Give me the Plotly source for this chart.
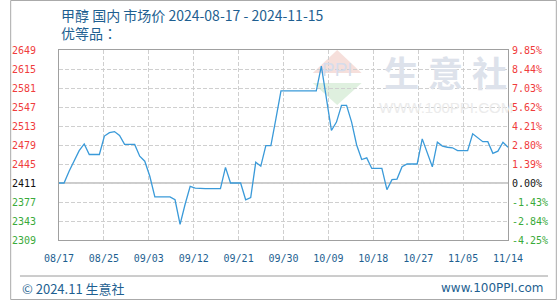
import pandas as pd
import plotly.graph_objects as go

# ---------------- data ----------------
start_date = "2024-08-17"
end_date = "2024-11-14"
prices = [
    2411, 2411, 2432, 2452, 2469, 2481, 2462, 2462, 2462, 2495,
    2501, 2503, 2496, 2480, 2480, 2480, 2459, 2450, 2423, 2386,
    2386, 2386, 2386, 2381, 2337, 2373, 2405, 2402, 2401, 2401,
    2401, 2401, 2401, 2439, 2411, 2411, 2411, 2381, 2385, 2448,
    2441, 2478, 2478, 2526, 2576, 2576, 2576, 2576, 2576, 2576,
    2576, 2576, 2620, 2560, 2505, 2520, 2550, 2550, 2520, 2479,
    2453, 2456, 2437, 2437, 2437, 2399, 2417, 2418, 2440, 2445,
    2445, 2445, 2490, 2465, 2440, 2484, 2477, 2475, 2474, 2469,
    2469, 2469, 2499, 2492, 2485, 2485, 2464, 2468, 2484, 2475,
]
base_price = 2411
x_labels = ["08/17", "08/25", "09/03", "09/12", "09/21", "09/30",
            "10/09", "10/18", "10/27", "11/05", "11/14"]
y_ticks = [2649, 2615, 2581, 2547, 2513, 2479, 2445, 2411, 2377, 2343, 2309]
pct_labels = ["9.85%", "8.44%", "7.03%", "5.62%", "4.21%", "2.80%",
              "1.39%", "0.00%", "-1.43%", "-2.84%", "-4.25%"]
title_text = "甲醇 国内 市场价 2024-08-17 - 2024-11-15"
subtitle_text = "优等品："

dates = pd.date_range(start_date, end_date, freq="D")

# ---------------- styling ----------------
W, H = 560, 300
ML, MR, MT, MB = 50, 50, 50, 60
PW, PH = W - ML - MR, H - MT - MB
RED, GREEN, BLACK = "#f03c3c", "#3aaa3a", "#111111"
BLUE_TXT = "#1e5f91"
LINE = "#3a9ad9"
GRID = "#cfcfcf"
FRAME = "#a0a0a0"
TICK_FONT = dict(family="DejaVu Sans Mono", size=10)


def px(x):
    return (x - ML) / PW


def py(y):
    return (H - MB - y) / PH


def colored(text, value):
    c = RED if value > base_price else (GREEN if value < base_price else BLACK)
    return f'<span style="color:{c}">{text}</span>'


span_days = (dates[-1] - dates[0]).days
n_int = len(x_labels) - 1
tick_dates = [dates[0] + pd.Timedelta(days=span_days * k / n_int) for k in range(len(x_labels))]

fig = go.Figure()
fig.add_trace(go.Scatter(x=dates, y=prices, mode="lines",
                         line=dict(color=LINE, width=1.3),
                         showlegend=False, hoverinfo="skip"))
# anchor trace so the right axis is drawn
fig.add_trace(go.Scatter(x=dates[:1], y=prices[:1], mode="lines", yaxis="y2",
                         line=dict(color=LINE, width=0), showlegend=False,
                         hoverinfo="skip"))

fig.update_layout(
    width=W, height=H,
    margin=dict(l=ML, r=MR, t=MT, b=MB),
    paper_bgcolor="white", plot_bgcolor="white",
    xaxis=dict(
        type="date", range=[dates[0], dates[-1]],
        tickmode="array", tickvals=tick_dates, ticktext=x_labels,
        tickfont=dict(family="DejaVu Sans Mono", size=10, color=BLUE_TXT),
        showgrid=True, gridcolor=GRID, griddash="4px,2px", gridwidth=1,
        showline=True, linecolor=FRAME, linewidth=1, mirror=True,
        ticks="", ticklabelstandoff=9, zeroline=False,
    ),
    yaxis=dict(
        range=[y_ticks[-1], y_ticks[0]],
        tickmode="array", tickvals=y_ticks,
        ticktext=[colored(str(v), v) for v in y_ticks],
        tickfont=TICK_FONT,
        showgrid=True, gridcolor=GRID, griddash="4px,2px", gridwidth=1,
        showline=True, linecolor=FRAME, linewidth=1, mirror=True,
        ticks="", ticklabelstandoff=20, zeroline=False,
    ),
    yaxis2=dict(
        overlaying="y", side="right",
        range=[y_ticks[-1], y_ticks[0]],
        tickmode="array", tickvals=y_ticks,
        ticktext=[colored(t, v) for t, v in zip(pct_labels, y_ticks)],
        tickfont=TICK_FONT, showgrid=False, zeroline=False,
        ticks="", ticklabelstandoff=3, showline=False,
    ),
)

shapes = []
# base line
shapes.append(dict(type="line", xref="paper", yref="y", x0=0, x1=1,
                   y0=base_price, y1=base_price,
                   line=dict(color="#999999", width=1.2), layer="below"))
# watermark logo triangles
shapes.append(dict(type="path", xref="paper", yref="paper", layer="below",
                   path=f"M {px(310)} {py(73)} L {px(335)} {py(50)} L {px(360)} {py(73)} Z",
                   fillcolor="#f6dfdb", line=dict(width=0)))
shapes.append(dict(type="path", xref="paper", yref="paper", layer="below",
                   path=f"M {px(310)} {py(83)} L {px(360)} {py(83)} L {px(335)} {py(105)} Z",
                   fillcolor="#dff0df", line=dict(width=0)))
# footer separator
shapes.append(dict(type="line", xref="paper", yref="paper",
                   x0=px(10), x1=px(551), y0=py(276), y1=py(276),
                   line=dict(color="#9a9a9a", width=1)))
# outer border
shapes.append(dict(type="rect", xref="paper", yref="paper",
                   x0=px(0.5), x1=px(559.5), y0=py(0.5), y1=py(299.5),
                   line=dict(color="#aaaaaa", width=1)))
fig.update_layout(shapes=shapes)

ann = []
ann.append(dict(text=f"{title_text}<br>{subtitle_text}", xref="paper", yref="paper",
                x=px(50), y=py(24), align="left",
                xanchor="left", yanchor="middle", showarrow=False,
                font=dict(family="Noto Sans CJK TC", size=14, color=BLUE_TXT)))
# watermark
ann.append(dict(text="PPI", xref="paper", yref="paper", x=px(335), y=py(69),
                xanchor="center", yanchor="middle", showarrow=False,
                font=dict(family="Liberation Sans", size=19, color="#d6dceb")))
for ch, cx in zip("生意社", [401, 446, 491]):
    ann.append(dict(text=f"<b>{ch}</b>", xref="paper", yref="paper", x=px(cx), y=py(71),
                    xanchor="center", yanchor="middle", showarrow=False,
                    font=dict(family="Noto Sans CJK SC", size=35, color="#dde2eb")))
ann.append(dict(text="WWW.100PPI.COM", xref="paper", yref="paper", x=px(446), y=py(107),
                xanchor="center", yanchor="middle", showarrow=False,
                font=dict(family="Liberation Sans", size=15, color="#ebebeb")))
# footer
ann.append(dict(text="© 2024.11 生意社", xref="paper", yref="paper", x=px(10), y=py(288),
                xanchor="left", yanchor="middle", showarrow=False,
                font=dict(family="Noto Sans CJK SC", size=13, color=BLUE_TXT)))
ann.append(dict(text="www.100PPI.com", xref="paper", yref="paper", x=px(549), y=py(288),
                xanchor="right", yanchor="middle", showarrow=False,
                font=dict(family="DejaVu Sans", size=12, color=BLUE_TXT)))
fig.update_layout(annotations=ann)

fig.write_html("out.html")
